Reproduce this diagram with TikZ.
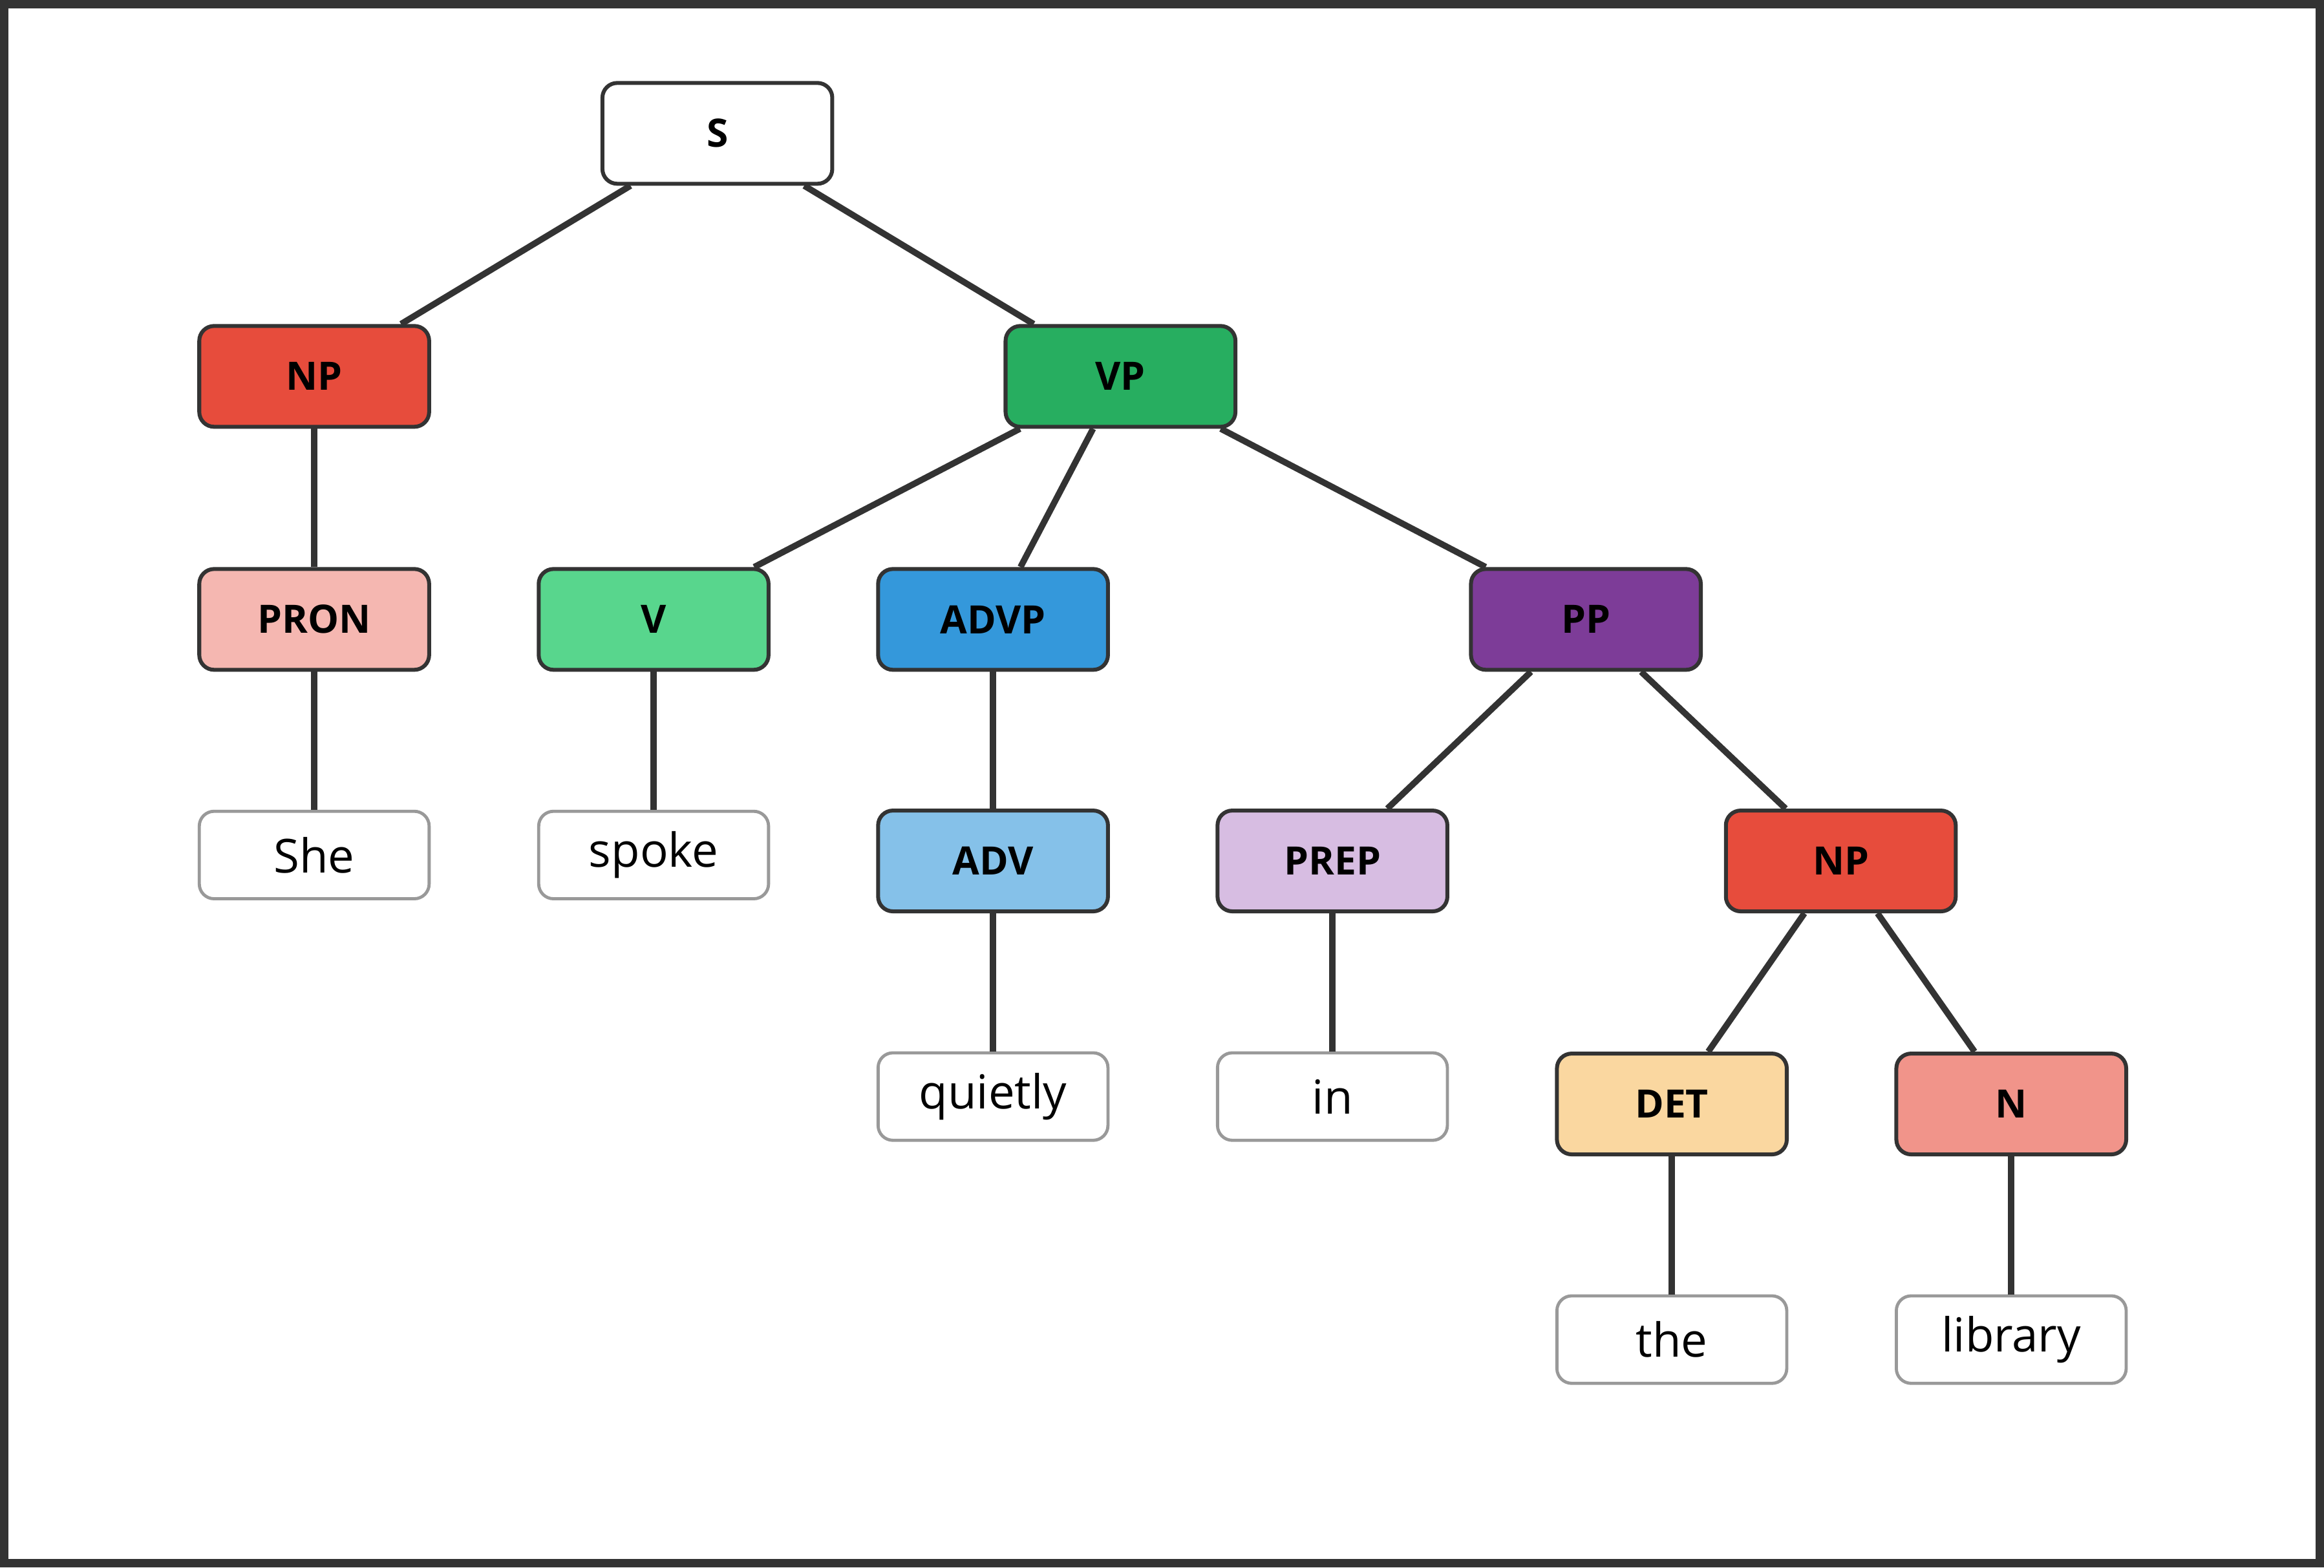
\documentclass[tikz,border=0pt]{standalone}
\usepackage{fontspec}
\setmainfont{Open Sans}
\begin{document}
\begin{tikzpicture}[x=0.01cm,y=-0.01cm,
  cat/.style={draw=black!80,line width=0.75pt,rounded corners=0.1cm,minimum width=1.55cm,minimum height=0.68cm,font=\fontsize{7.5}{9}\selectfont\bfseries,text=black},
  word/.style={draw=black!40,line width=0.6pt,rounded corners=0.1cm,fill=white,minimum width=1.55cm,minimum height=0.59cm,font=\fontsize{9}{11}\selectfont},
  edge/.style={draw=black!80,line width=1.2pt}]
\fill[white] (0,0) rectangle (1568,1058);
\draw[black!80,line width=1.6pt] (3,3) rectangle (1565,1055);
\node[cat,fill=white] (S) at (484,90) {S};
\node[cat,fill={rgb,255:red,231;green,76;blue,60}] (NP) at (212,254) {NP};
\node[cat,fill={rgb,255:red,39;green,174;blue,96}] (VP) at (756,254) {VP};
\node[cat,fill={rgb,255:red,245;green,183;blue,177}] (PRON) at (212,418) {PRON};
\node[cat,fill={rgb,255:red,88;green,214;blue,141}] (V) at (441,418) {V};
\node[cat,fill={rgb,255:red,52;green,152;blue,219}] (ADVP) at (670,418) {ADVP};
\node[cat,fill={rgb,255:red,125;green,60;blue,152}] (PP) at (1070,418) {PP};
\node[cat,fill={rgb,255:red,133;green,193;blue,233}] (ADV) at (670,581) {ADV};
\node[cat,fill={rgb,255:red,215;green,189;blue,226}] (PREP) at (899,581) {PREP};
\node[cat,fill={rgb,255:red,231;green,76;blue,60}] (NP2) at (1242,581) {NP};
\node[cat,fill={rgb,255:red,250;green,215;blue,160}] (DET) at (1128,745) {DET};
\node[cat,fill={rgb,255:red,241;green,148;blue,138}] (N) at (1357,745) {N};
\node[word] (w1) at (212,577) {She};
\node[word] (w2) at (441,577) {spoke};
\node[word] (w3) at (670,740) {quietly};
\node[word] (w4) at (899,740) {in};
\node[word] (w5) at (1128,904) {the};
\node[word] (w6) at (1357,904) {library};
\foreach \a/\b in {S/NP,S/VP,NP/PRON,PRON/w1,VP/V,VP/ADVP,VP/PP,V/w2,ADVP/ADV,ADV/w3,PP/PREP,PP/NP2,PREP/w4,NP2/DET,NP2/N,DET/w5,N/w6}
  \draw[edge] (\a) -- (\b);
\end{tikzpicture}
\end{document}
